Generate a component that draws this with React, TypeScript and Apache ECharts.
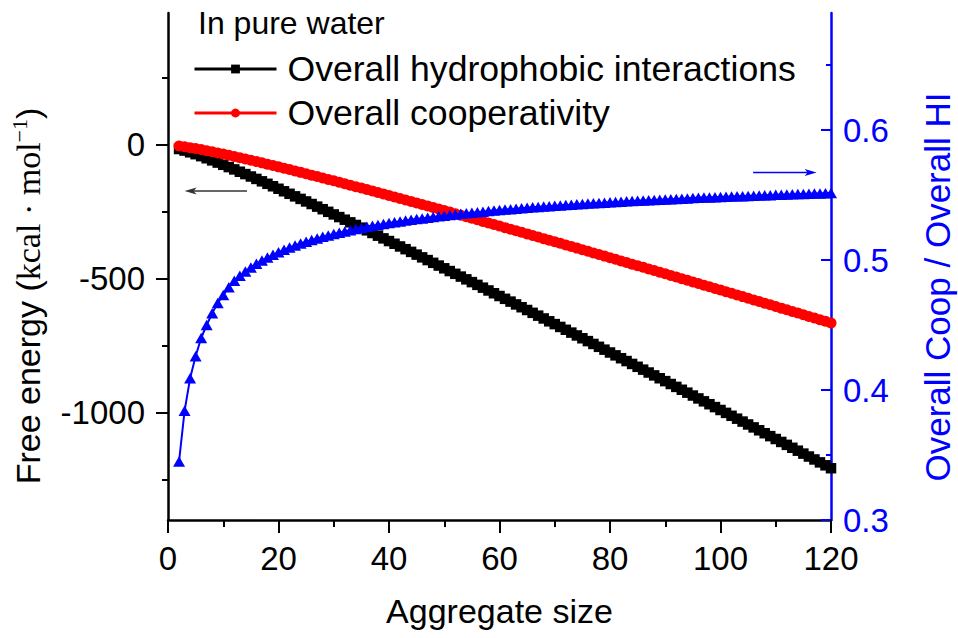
import React, { useEffect, useRef } from "react";
import * as echarts from "echarts";

// Aggregate size n (x values)
const aggregateSizes = [
  2, 3, 4, 5, 6, 7, 8, 9, 10, 11,
  12, 13, 14, 15, 16, 17, 18, 19, 20, 21,
  22, 23, 24, 25, 26, 27, 28, 29, 30, 31,
  32, 33, 34, 35, 36, 37, 38, 39, 40, 41,
  42, 43, 44, 45, 46, 47, 48, 49, 50, 51,
  52, 53, 54, 55, 56, 57, 58, 59, 60, 61,
  62, 63, 64, 65, 66, 67, 68, 69, 70, 71,
  72, 73, 74, 75, 76, 77, 78, 79, 80, 81,
  82, 83, 84, 85, 86, 87, 88, 89, 90, 91,
  92, 93, 94, 95, 96, 97, 98, 99, 100, 101,
  102, 103, 104, 105, 106, 107, 108, 109, 110, 111,
  112, 113, 114, 115, 116, 117, 118, 119, 120,
];

// Overall hydrophobic interactions (kcal/mol), left axis
const overallHI = [
  -17.0, -22.8, -29.3, -36.3, -43.7, -51.5, -59.4, -67.6, -75.9, -84.4,
  -93.0, -101.7, -110.5, -119.5, -128.5, -137.5, -146.7, -155.9, -165.2, -174.6,
  -184.0, -193.5, -203.0, -212.5, -222.1, -231.8, -241.4, -251.2, -260.9, -270.7,
  -280.5, -290.4, -300.2, -310.2, -320.1, -330.1, -340.1, -350.1, -360.1, -370.2,
  -380.3, -390.4, -400.5, -410.7, -420.9, -431.1, -441.3, -451.5, -461.7, -472.0,
  -482.3, -492.6, -502.9, -513.2, -523.5, -533.9, -544.3, -554.7, -565.0, -575.5,
  -585.9, -596.4, -606.8, -617.2, -627.7, -638.2, -648.7, -659.3, -669.8, -680.3,
  -690.9, -701.4, -712.0, -722.5, -733.1, -743.7, -754.4, -765.0, -775.6, -786.2,
  -796.9, -807.5, -818.2, -828.9, -839.5, -850.2, -860.9, -871.6, -882.3, -893.1,
  -903.8, -914.5, -925.3, -936.0, -946.8, -957.6, -968.3, -979.1, -989.9, -1000.7,
  -1011.5, -1022.3, -1033.1, -1043.9, -1054.8, -1065.6, -1076.5, -1087.3, -1098.1, -1109.0,
  -1119.9, -1130.8, -1141.6, -1152.5, -1163.4, -1174.3, -1185.2, -1196.1, -1207.0,
];

// Overall cooperativity (kcal/mol), left axis
const overallCoop = [
  -5.9, -8.7, -12.0, -15.5, -19.2, -23.2, -27.3, -31.6, -35.9, -40.4,
  -45.0, -49.6, -54.3, -59.0, -63.9, -68.7, -73.6, -78.6, -83.6, -88.7,
  -93.8, -98.9, -104.1, -109.3, -114.5, -119.7, -125.0, -130.3, -135.7, -141.1,
  -146.4, -151.9, -157.3, -162.7, -168.2, -173.7, -179.2, -184.7, -190.3, -195.9,
  -201.5, -207.1, -212.7, -218.3, -223.9, -229.6, -235.3, -240.9, -246.6, -252.3,
  -258.1, -263.8, -269.5, -275.3, -281.1, -286.8, -292.6, -298.4, -304.2, -310.1,
  -315.9, -321.7, -327.6, -333.4, -339.3, -345.2, -351.1, -356.9, -362.8, -368.7,
  -374.6, -380.6, -386.5, -392.4, -398.4, -404.3, -410.3, -416.3, -422.2, -428.2,
  -434.2, -440.2, -446.2, -452.2, -458.2, -464.2, -470.3, -476.3, -482.3, -488.3,
  -494.4, -500.5, -506.5, -512.6, -518.6, -524.7, -530.8, -536.9, -543.0, -549.0,
  -555.1, -561.2, -567.3, -573.4, -579.6, -585.7, -591.8, -598.0, -604.1, -610.2,
  -616.4, -622.5, -628.7, -634.8, -641.0, -647.1, -653.3, -659.5, -665.7,
];

// Overall Coop / Overall HI, right axis
const coopOverHI = [
  0.345, 0.384, 0.409, 0.426, 0.44, 0.45, 0.459, 0.467, 0.473, 0.479,
  0.484, 0.4878, 0.4912, 0.4943, 0.4971, 0.4996, 0.5019, 0.504, 0.506, 0.5078,
  0.5096, 0.5112, 0.5127, 0.5141, 0.5154, 0.5166, 0.5178, 0.5189, 0.52, 0.521,
  0.522, 0.5229, 0.5238, 0.5247, 0.5255, 0.5263, 0.527, 0.5277, 0.5284, 0.529,
  0.5296, 0.5303, 0.5309, 0.5315, 0.532, 0.5325, 0.5331, 0.5336, 0.5341, 0.5346,
  0.535, 0.5355, 0.5359, 0.5364, 0.5368, 0.5372, 0.5376, 0.538, 0.5384, 0.5388,
  0.5391, 0.5395, 0.5398, 0.5402, 0.5405, 0.5408, 0.5411, 0.5414, 0.5417, 0.542,
  0.5423, 0.5425, 0.5428, 0.5431, 0.5434, 0.5436, 0.5439, 0.5441, 0.5444, 0.5446,
  0.5449, 0.5451, 0.5454, 0.5456, 0.5458, 0.546, 0.5462, 0.5464, 0.5466, 0.5468,
  0.547, 0.5472, 0.5474, 0.5476, 0.5478, 0.548, 0.5481, 0.5483, 0.5485, 0.5487,
  0.5488, 0.549, 0.5491, 0.5493, 0.5495, 0.5496, 0.5498, 0.5499, 0.5501, 0.5502,
  0.5504, 0.5505, 0.5507, 0.5508, 0.5509, 0.5511, 0.5512, 0.5514, 0.5515,
];

const leftTickValues = [0, -500, -1000];
const leftMinorTickValues = [250, -250, -750, -1250];
const rightTickValues = [0.3, 0.4, 0.5, 0.6];
const rightMinorTickValues = [0.35, 0.45, 0.55, 0.65];

// annotation arrows in data coordinates: [tail, head]
const leftArrow = [[14.3, -174], [3.0, -174]];
const rightArrow = [[105.9, 0.5674], [117.4, 0.5674]];

const FONT = "'Liberation Sans', Arial, Helvetica, sans-serif";
const SERIF = "'Liberation Serif', 'Times New Roman', serif";
const BLUE = "#0000ff";

export default function App() {
  const ref = useRef<HTMLDivElement>(null);

  useEffect(() => {
    if (!ref.current) return;
    const chart = echarts.init(ref.current, undefined, { renderer: "svg" });

    const pairs = (ys: number[]) => aggregateSizes.map((x, i) => [x, ys[i]]);
    const LMIN = -1400, LMAX = 490, RMIN = 0.3, RMAX = 0.69;

    chart.setOption({
      animation: false,
      backgroundColor: "#ffffff",
      textStyle: { fontFamily: FONT },
      grid: { left: 168, right: 127, top: 13, bottom: 118, containLabel: false },
      legend: {
        data: ["Overall hydrophobic interactions", "Overall cooperativity"],
        orient: "vertical",
        left: 193,
        top: 47,
        padding: 0,
        itemGap: 0,
        itemWidth: 82,
        itemHeight: 11,
        selectedMode: false,
        lineStyle: { width: 3 },
        textStyle: { fontSize: 35.6, lineHeight: 44, color: "#000", fontFamily: FONT, padding: [0, 0, 0, 6] },
      },
      xAxis: {
        type: "value",
        min: 0,
        max: 120,
        interval: 20,
        name: "Aggregate size",
        nameLocation: "middle",
        nameGap: 74,
        nameTextStyle: { fontSize: 34, color: "#000", fontFamily: FONT },
        axisLine: { onZero: false, lineStyle: { color: "#000", width: 2.5 } },
        axisTick: { length: 13, lineStyle: { color: "#000", width: 2 } },
        minorTick: { show: true, splitNumber: 2, length: 7, lineStyle: { color: "#000", width: 2 } },
        axisLabel: { fontSize: 33, color: "#000", margin: 22, fontFamily: FONT },
        splitLine: { show: false },
        minorSplitLine: { show: false },
      },
      yAxis: [
        {
          type: "value",
          position: "left",
          min: LMIN,
          max: LMAX,
          axisLine: { show: true, onZero: false, lineStyle: { color: "#000", width: 2.5 } },
          axisTick: { show: true, length: 12, customValues: leftTickValues, lineStyle: { color: "#000", width: 2 } },
          axisLabel: {
            fontSize: 33,
            color: "#000",
            margin: 23,
            fontFamily: FONT,
            customValues: leftTickValues,
            formatter: (v: number) => String(v),
          },
          splitLine: { show: false },
        },
        {
          type: "value",
          position: "right",
          min: RMIN,
          max: RMAX,
          axisLine: { show: true, onZero: false, lineStyle: { color: BLUE, width: 2.5 } },
          axisTick: { show: true, inside: true, length: 10, customValues: rightTickValues, lineStyle: { color: BLUE, width: 2 } },
          axisLabel: {
            fontSize: 33,
            color: BLUE,
            margin: 12,
            fontFamily: FONT,
            customValues: rightTickValues,
            formatter: (v: number) => v.toFixed(1),
          },
          splitLine: { show: false },
        },
        {
          type: "value",
          position: "left",
          min: LMIN,
          max: LMAX,
          axisLine: { show: false, onZero: false },
          axisTick: { show: true, length: 6, customValues: leftMinorTickValues, lineStyle: { color: "#000", width: 2 } },
          axisLabel: { show: false },
          splitLine: { show: false },
        },
        {
          type: "value",
          position: "right",
          min: RMIN,
          max: RMAX,
          axisLine: { show: false, onZero: false },
          axisTick: { show: true, inside: true, length: 5, customValues: rightMinorTickValues, lineStyle: { color: BLUE, width: 2 } },
          axisLabel: { show: false },
          splitLine: { show: false },
        },
      ],
      series: [
        {
          name: "Overall hydrophobic interactions",
          type: "line",
          xAxisIndex: 0,
          yAxisIndex: 0,
          data: pairs(overallHI),
          symbol: "rect",
          symbolSize: 10.5,
          itemStyle: { color: "#000" },
          lineStyle: { color: "#000", width: 3 },
        },
        {
          name: "Overall cooperativity",
          type: "line",
          xAxisIndex: 0,
          yAxisIndex: 0,
          data: pairs(overallCoop),
          symbol: "circle",
          symbolSize: 11,
          itemStyle: { color: "#ff0000" },
          lineStyle: { color: "#ff0000", width: 3 },
        },
        {
          name: "Overall Coop / Overall HI",
          type: "line",
          xAxisIndex: 0,
          yAxisIndex: 1,
          data: pairs(coopOverHI),
          symbol: "triangle",
          symbolSize: [12, 10.5],
          itemStyle: { color: BLUE },
          lineStyle: { color: BLUE, width: 2 },
        },
      ],
    });

    const arrow = (tail: number[], head: number[], yAxisIndex: number, color: string) => {
      const [x1, y1] = chart.convertToPixel({ xAxisIndex: 0, yAxisIndex }, tail) as number[];
      const [x2, y2] = chart.convertToPixel({ xAxisIndex: 0, yAxisIndex }, head) as number[];
      const d = x2 > x1 ? 1 : -1;
      return [
        {
          type: "line",
          silent: true,
          shape: { x1, y1, x2: x2 - d * 8, y2 },
          style: { stroke: color, lineWidth: 1.5 },
        },
        {
          type: "polygon",
          silent: true,
          shape: {
            points: [
              [x2, y2],
              [x2 - d * 12, y2 - 3.5],
              [x2 - d * 9, y2],
              [x2 - d * 12, y2 + 3.5],
            ],
          },
          style: { fill: color },
        },
      ];
    };

    chart.setOption({
      graphic: [
        {
          type: "text",
          x: 198,
          y: 23,
          style: {
            text: "In pure water",
            fill: "#000",
            font: `32px ${FONT}`,
            align: "left",
            verticalAlign: "middle",
          },
        },
        {
          type: "text",
          x: 28,
          y: 296,
          rotation: Math.PI / 2,
          style: {
            text: "{a|Free energy (}{b|kcal · mol}{c|−1}{a|)}",
            fill: "#000",
            align: "center",
            verticalAlign: "middle",
            rich: {
              a: { fontFamily: FONT, fontSize: 34, lineHeight: 40, fill: "#000" },
              b: { fontFamily: SERIF, fontSize: 34, lineHeight: 40, fill: "#000" },
              c: { fontFamily: SERIF, fontSize: 22, lineHeight: 22, verticalAlign: "top", fill: "#000" },
            },
          },
        },
        {
          type: "text",
          x: 937,
          y: 287,
          rotation: Math.PI / 2,
          style: {
            text: "Overall Coop / Overall HI",
            fill: BLUE,
            font: `35px ${FONT}`,
            align: "center",
            verticalAlign: "middle",
          },
        },
        ...arrow(leftArrow[0], leftArrow[1], 0, "#333333"),
        ...arrow(rightArrow[0], rightArrow[1], 1, BLUE),
      ],
    });

    return () => chart.dispose();
  }, []);

  return (
    <div
      ref={ref}
      style={{ position: "fixed", left: 0, top: 0, width: 958, height: 638, background: "#fff" }}
    />
  );
}
